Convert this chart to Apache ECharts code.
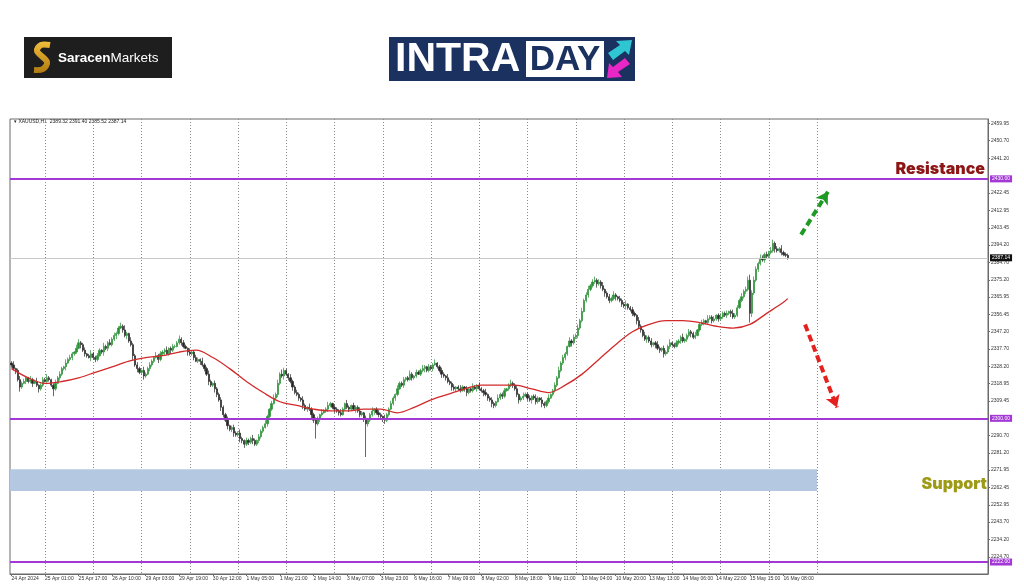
<!DOCTYPE html>
<html><head><meta charset="utf-8">
<script src="https://cdn.jsdelivr.net/npm/echarts@6/dist/echarts.min.js"></script>
<style>html,body{margin:0;padding:0;background:#fff}#c{width:1024px;height:587px}</style>
</head><body><div id="c"></div>
<script>
// ---- data (XAUUSD H1) ----
const firstOpen = 2330;
const closes = [
2329,2327,2326,2321,2317,2319,2320,2322,2320,2321,
2319,2320,2318,2316,2318,2321,2320,2322,2321,2318,
2316,2319,2322,2324,2327,2328,2330,2332,2333,2335,
2336,2338,2341,2340,2337,2335,2334,2333,2335,2333,
2332,2334,2337,2336,2339,2338,2341,2340,2343,2345,
2346,2349,2350,2348,2345,2346,2342,2340,2334,2329,
2327,2325,2326,2323,2324,2327,2329,2331,2333,2334,
2332,2335,2336,2337,2335,2338,2337,2339,2339,2341,
2343,2341,2339,2338,2336,2335,2336,2333,2331,2332,
2331,2329,2327,2324,2320,2318,2319,2316,2313,2310,
2306,2302,2299,2296,2294,2295,2292,2291,2292,2289,
2288,2286,2288,2287,2289,2288,2286,2288,2290,2293,
2295,2297,2301,2305,2308,2311,2313,2319,2324,2323,
2326,2324,2322,2320,2317,2314,2313,2311,2310,2307,
2305,2306,2305,2302,2299,2297,2300,2302,2303,2304,
2305,2307,2308,2306,2305,2304,2303,2302,2305,2308,
2306,2305,2307,2305,2306,2304,2302,2303,2300,2297,
2299,2302,2304,2305,2303,2302,2301,2300,2299,2302,
2305,2308,2311,2313,2316,2319,2318,2321,2322,2321,
2324,2322,2323,2325,2324,2326,2327,2328,2326,2328,
2327,2329,2330,2328,2326,2324,2323,2322,2320,2319,
2317,2316,2317,2316,2315,2317,2316,2314,2316,2315,
2317,2316,2318,2316,2315,2314,2313,2311,2310,2308,
2307,2309,2311,2313,2312,2315,2316,2318,2319,2318,
2316,2313,2310,2311,2312,2313,2311,2310,2312,2311,
2309,2311,2310,2308,2307,2309,2311,2313,2315,2318,
2322,2326,2330,2333,2335,2339,2342,2341,2344,2345,
2349,2353,2358,2364,2367,2370,2372,2374,2375,2373,
2374,2372,2370,2368,2366,2364,2365,2367,2366,2365,
2364,2362,2361,2362,2360,2359,2357,2356,2353,2350,
2348,2345,2343,2344,2342,2340,2341,2340,2338,2337,
2338,2335,2336,2339,2341,2340,2339,2341,2342,2344,
2342,2343,2345,2347,2346,2344,2345,2348,2351,2352,
2353,2352,2354,2355,2353,2354,2356,2354,2355,2357,
2356,2357,2358,2357,2355,2356,2360,2364,2366,2369,
2370,2375,2357,2368,2375,2381,2384,2387,2386,2389,
2388,2390,2391,2395,2392,2391,2392,2390,2389,2388.5,2387.14
];
const upWick = [
1,2,0.5,1,2,1,1.5,1,0.5,2,1,1,2,0.5,1,1.5,1,2,1,0.5,
1,2,1,1.5,1,0.5,2,1,1.5,1,0.5,2,2,1,1,1.5,0.5,1,2,1,
1,1.5,1,0.5,2,1,1,2,1,1.5,1,1,2,1,2.5,1,0.5,2,1,1,
1.5,1,0.5,2,1,1,1.5,1,0.5,2,1,1.5,1,1,2,0.5,1,1.5,1,1,
2,1,1.5,1,0.5,2,1,1,1.5,1,0.5,2,1,1,2,1,0.5,1.5,1,1,
1.5,1,1,2,0.5,1,1.5,1,1,2,1,0.5,1.5,1,1,2,1,0.5,1.5,1,
1,2,1,0.5,1.5,2,1,2,1,2.5,1.5,1,0.5,2,1,1,1.5,1,0.5,2,
1,0.5,2,1,1,1.5,1,0.5,2,1,1,2,1,0.5,1.5,1,1,2,1,0.5,
2,1,0.5,1.5,1,1,2,1,0.5,1.5,1,1,2,0.5,1,1.5,1,0.5,2,1,
1,1.5,1,0.5,2,1,1,1.5,0.5,1,2,1,0.5,1.5,1,1,2,1,0.5,1.5,
1,1,2,0.5,1,1.5,1,0.5,2,1,1,1.5,0.5,1,2,1,0.5,1.5,1,1,
2,1,0.5,1.5,1,1,2,0.5,1,1.5,1,0.5,2,1,1,1.5,0.5,1,2,1,
1,1.5,0.5,1,2,1,1,1.5,0.5,1,2,1,0.5,1.5,1,1,2,0.5,1,1.5,
1,2,1,1.5,1,0.5,2,1,1.5,1,2,1,2,1,1.5,2,1,1.5,2,1,
1.5,1,2,0.5,1,1.5,1,2,1,0.5,1.5,1,1,2,0.5,1,1.5,1,0.5,2,
1,0.5,2,1,1,1.5,0.5,1,2,1,0.5,1.5,1,1,2,0.5,1,1.5,1,1,
2,0.5,1,1.5,1,1,2,0.5,1,1.5,1,0.5,2,1,1,1.5,0.5,1,2,1,
1,1.5,0.5,1,2,1,1.5,1,2,1,1.5,2,3,1.5,2,1.5,1,2,1.5,1,
1.5,1,2,2,1,1.5,1,2,1,1,1
];
const downWick = [
1.5,1,2,1,2.5,1,0.5,1.5,1,1,2,0.5,1,2,1,1,0.5,1.5,1,1,
4,1,0.5,1.5,1,1,2,0.5,1,1.5,1,1,0.5,2,1,1.5,1,0.5,2,1,
1.5,1,0.5,1,2,1,1.5,0.5,1,1,2,1,0.5,1.5,1,2,1,1,2.5,1,
2,1,1.5,2,1,0.5,1.5,1,1,0.5,2,1,1,1.5,0.5,1,2,1,1,0.5,
1,1.5,1,0.5,2,1,1,1.5,0.5,1,2,1,1.5,1,2,1,1,2,1.5,1,
2,1.5,1,2,1,1.5,2,1,1,2,1.5,2,1,1.5,1,2,1,1,1.5,1,
1,0.5,1.5,1,1,0.5,1,1.5,1,1,2,1,1.5,1,2,1,1,1.5,1,2,
1,1.5,1,2,1.5,8,1,2,1,0.5,1,1.5,1,1,2,1,1.5,1,0.5,1,
1,1.5,1,0.5,2,1,1.5,1,2,18,1.5,1,1,2,1,1.5,1,2,2,1,
1,0.5,1,1.5,1,0.5,1,1.5,1,1,0.5,1.5,1,1,0.5,1,1,2,1,1,
1,1.5,0.5,1,1,2,1,1.5,1,1,2,1,1.5,1,1,0.5,1.5,2,1,1,
1,0.5,1.5,1,1,2,1,1.5,1,2,1.5,1,0.5,1,1.5,1,0.5,1,1,1.5,
1,1.5,2,1,1,0.5,1.5,1,2,1,1.5,1,1,2,1.5,1,1,0.5,1,1,
1,0.5,1,1,1.5,1,0.5,2,1,1,1.5,1,1,0.5,1,1.5,1,1,1,2,
1,1.5,1,2,1,1.5,1,1,2,1,1,1.5,1,2,1,1,1.5,1,2,1,
1.5,1,1,2,1,1.5,1,2,1,1.5,1,2,1,1,1.5,1,1,0.5,1,1.5,
1,1,1.5,1,2,1,1,0.5,1,1,1.5,1,1,0.5,1.5,1,1,1.5,1,1,
1,1.5,1,2,1,1,1,0.5,1,1,1.5,1,5,2,1,1,1.5,1,1,1.5,
1,1.5,1,1,2,1,1,1.5,1,1,1
];
const maIdx = [0,8,16,24,32,40,48,56,64,72,80,88,96,104,112,120,128,136,144,152,160,168,176,184,192,200,208,216,224,232,240,248,256,264,272,280,288,296,304,312,320,328,336,344,352,360,368,370];
const maVal = [2327,2322,2319,2320,2322,2325,2328,2331,2333,2334,2336,2337,2333,2327,2320,2314,2309,2307,2305,2304,2304,2305,2305,2303,2306,2310,2313,2316,2318,2318,2318,2316,2314,2318,2324,2332,2340,2347,2351,2353,2353,2352,2350,2349,2351,2357,2363,2365];
const xLabels = ["24 Apr 2024","25 Apr 01:00","25 Apr 17:00","26 Apr 10:00","29 Apr 03:00","29 Apr 19:00","30 Apr 12:00","1 May 05:00","1 May 21:00","2 May 14:00","3 May 07:00","3 May 23:00","6 May 16:00","7 May 09:00","8 May 02:00","8 May 18:00","9 May 11:00","10 May 04:00","10 May 20:00","13 May 13:00","14 May 06:00","14 May 22:00","15 May 15:00","16 May 08:00"];
const xLabelIdx = [0,16,32,48,64,80,96,112,128,144,160,176,192,208,224,240,256,272,288,304,320,336,352,368];
const dayGridIdx = [16,39,62,85,108,131,154,177,200,223,246,269,292,315,338,361,384];
const yTicks = [2459.95,2450.70,2441.20,2422.45,2412.95,2403.45,2394.20,2384.70,2375.20,2365.95,2356.45,2347.20,2337.70,2328.20,2318.95,2309.45,2290.70,2281.20,2271.95,2262.45,2252.95,2243.70,2234.20,2224.70,2215.45];
const resistanceLevel = 2430.00, supportLevel = 2300.00, lowerLevel = 2222.00, lastPrice = 2387.14;
const supportZone = [2260.5, 2272.4];
const supportZoneEnd = 384;
const upArrow = [[376.4, 2399.7],[389.2, 2423.0]];
const downArrow = [[378.3, 2350.9],[393.5, 2305.9]];
const headerText = "XAUUSD,H1  2389.32 2391.40 2385.52 2387.14";

// ---- build ----
const candles = closes.map((c,i)=>{
  const o = i===0 ? firstOpen : closes[i-1];
  return [i, o, c, Math.min(o,c)-downWick[i], Math.max(o,c)+upWick[i]];
});
const ma = maIdx.map((x,k)=>[x, maVal[k]]);

const PURPLE = '#a338d6';
const F = 'Liberation Sans';
function lvl(v, lc, bg, w){
  return {yAxis: v, lineStyle:{color: lc, width: w, type:'solid'},
    label:{show:true, position:'end', distance:2, formatter: ()=>v.toFixed(2),
      backgroundColor: bg, color:'#fff', fontSize:5, fontFamily:F, padding:[1,2]}};
}
function arrow(pts, col){
  return [{coord: pts[0], symbol:'none', lineStyle:{color:col, width:4, type:[7,4]}, label:{show:false}},
          {coord: pts[1], symbol:'arrow', symbolSize:[11,12]}];
}

const chart = echarts.init(document.getElementById('c'), null, {renderer:'canvas'});
chart.setOption({
  animation:false,
  backgroundColor:'#fff',
  grid:{left:10, right:36, top:119, bottom:13, show:true, borderColor:'#6a6a6a', borderWidth:1},
  xAxis:[{
    type:'value', min:-0.7, max:465.5, position:'bottom',
    axisLine:{show:true, onZero:false, lineStyle:{color:'#6a6a6a'}},
    axisTick:{show:true, length:2, customValues:xLabelIdx, lineStyle:{color:'#6a6a6a'}},
    axisLabel:{show:true, customValues:xLabelIdx, align:'left', margin:2, fontSize:5, fontFamily:F, color:'#333',
      formatter:v=>xLabels[xLabelIdx.indexOf(v)]},
    splitLine:{show:false}
  },{
    type:'value', min:-0.7, max:465.5, position:'top',
    axisLine:{show:false, onZero:false}, axisLabel:{show:false},
    axisTick:{show:false, customValues:dayGridIdx},
    splitLine:{show:true, lineStyle:{color:'#8a8a8a', type:[1,2], width:1}}
  }],
  yAxis:{
    type:'value', position:'right', min:2215.5, max:2462.5,
    axisLine:{show:true, onZero:false, lineStyle:{color:'#6a6a6a'}},
    axisTick:{show:true, length:2, customValues:yTicks, lineStyle:{color:'#6a6a6a'}},
    axisLabel:{show:true, customValues:yTicks, margin:3, fontSize:5, fontFamily:F, color:'#333', formatter:v=>v.toFixed(2)},
    splitLine:{show:false}
  },
  series:[{
    type:'candlestick', xAxisIndex:0, encode:{x:0, y:[1,2,3,4]},
    data:candles, barWidth:1.7,
    itemStyle:{color:'#2a9136', color0:'#262626', borderColor:'#2a9136', borderColor0:'#262626', borderWidth:0.7},
    markArea:{silent:true, itemStyle:{color:'#b5c8e2'},
      data:[[{xAxis:-0.7, yAxis:supportZone[0]},{xAxis:supportZoneEnd, yAxis:supportZone[1]}]]}
  },{
    type:'line', xAxisIndex:0, data:ma, showSymbol:false, smooth:0.35,
    lineStyle:{color:'#d22a2a', width:1.3},
    markLine:{silent:true, symbol:['none','none'], animation:false,
      data:[
        lvl(lastPrice,'#c9c9c9','#111',1),
        lvl(resistanceLevel,PURPLE,PURPLE,2),
        lvl(supportLevel,PURPLE,PURPLE,2),
        lvl(lowerLevel,PURPLE,PURPLE,2),
        arrow(upArrow,'#1f9a24'),
        arrow(downArrow,'#e3221f')
      ]}
  }],
  graphic:[
    {type:'rect', shape:{x:24,y:37,width:148,height:41}, style:{fill:'#1e1e1e'}},
    {type:'polyline', shape:{points:[[50,45],[41,45],[37,51],[47,62],[43,69],[34,70]], smooth:0.35},
      style:{fill:null, lineWidth:6, stroke:new echarts.graphic.LinearGradient(0,0,0,1,[{offset:0,color:'#f2bd3a'},{offset:1,color:'#b07b12'}])}},
    {type:'text', x:58, y:58, style:{text:'{b|Saracen}{r|Markets}', verticalAlign:'middle',
      rich:{b:{fontSize:13.5, fontWeight:'bold', fill:'#fff', fontFamily:F},
            r:{fontSize:13.5, fill:'#fff', fontFamily:F}}}},
    {type:'rect', shape:{x:389,y:37,width:246,height:44}, style:{fill:'#1b3160'}},
    {type:'text', x:395, y:60, style:{text:'INTRA', fontSize:41, fontWeight:'bold', fontFamily:F, fill:'#fff', verticalAlign:'middle'}},
    {type:'rect', shape:{x:526,y:41,width:78,height:36}, style:{fill:'#fff'}},
    {type:'text', x:565, y:60, style:{text:'DAY', fontSize:35, fontWeight:'bold', fontFamily:F, fill:'#1b3160', align:'center', verticalAlign:'middle'}},
    {type:'polygon', shape:{points:[[608,53],[620,45],[616,41],[632,40],[629,55],[625,51],[613,60]]}, style:{fill:'#2fc6d3'}},
    {type:'polygon', shape:{points:[[630,64],[618,72],[622,77],[607,78],[609,63],[613,67],[625,58]]}, style:{fill:'#e926c6'}},
    {type:'text', x:14, y:122, style:{text:'\u25BE '+headerText, fontSize:5, fontFamily:F, fill:'#222', verticalAlign:'middle'}},
    {type:'text', x:985, y:169, style:{text:'Resistance', fontSize:16, fontWeight:900, fontFamily:'Inter', fill:'#8c1515', align:'right', verticalAlign:'middle'}},
    {type:'text', x:987, y:484, style:{text:'Support', fontSize:16, fontWeight:900, fontFamily:'Inter', fill:'#9d9a16', align:'right', verticalAlign:'middle'}}
  ]
});
</script></body></html>
